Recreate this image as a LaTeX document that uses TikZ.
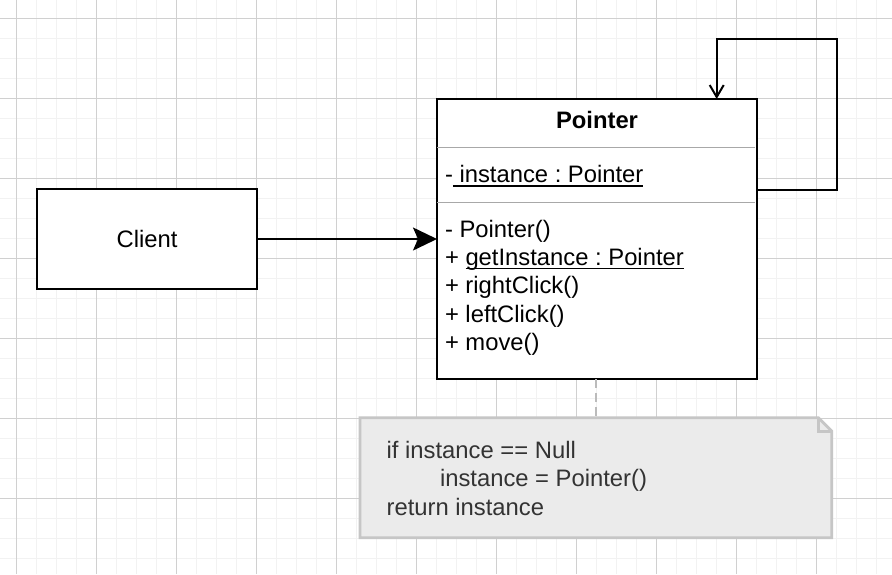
\documentclass[tikz,border=0pt]{standalone}
\usepackage{fontspec}
\setmainfont{Liberation Sans}
\usetikzlibrary{arrows.meta}
\definecolor{gridminor}{HTML}{F2F2F2}
\definecolor{gridmajor}{HTML}{D0D0D0}
\definecolor{sepgray}{HTML}{A8A8A8}
\definecolor{notefill}{HTML}{EBEBEB}
\definecolor{notestroke}{HTML}{C6C6C6}
\definecolor{notetext}{HTML}{333333}
\definecolor{dashgray}{HTML}{BBBBBB}
\newcommand\myul[1]{\setbox0\hbox{#1}\rlap{\rule[-4pt]{\wd0}{1.8pt}}\box0}
\frenchspacing
\begin{document}
\begin{tikzpicture}[x=1pt,y=-1pt,
  font=\fontsize{23.8}{28}\selectfont\frenchspacing,
  box/.style={draw=black,line width=2pt,fill=white,inner sep=0pt,outer sep=0pt},
  txt/.style={inner sep=0pt,outer sep=0pt},
  notetxt/.style={txt,anchor=base west,text=notetext},
  conn/.style={draw=black,line width=2pt},
  dashconn/.style={draw=dashgray,line width=2pt,dash pattern=on 9pt off 5pt},
  notestyle/.style={fill=notefill,draw=notestroke,line width=2.8pt,line join=miter},
  sepline/.style={draw=sepgray,line width=1.5pt}]
\fill[white] (0,0) rectangle (892,574);
\useasboundingbox (0,0) rectangle (892,574);
% grid
\foreach \x in {16.5,36.5,...,880} \draw[gridminor,line width=1.6pt] (\x,0) -- (\x,574);
\foreach \y in {18.3,38.3,...,570} \draw[gridminor,line width=1.6pt] (0,\y) -- (892,\y);
\foreach \x in {16.5,96.5,...,880} \draw[gridmajor,line width=1pt] (\x,0) -- (\x,574);
\foreach \y in {18.3,98.3,...,570} \draw[gridmajor,line width=1pt] (0,\y) -- (892,\y);
% client
\node[box,minimum width=220pt,minimum height=100pt] (client) at (147,239) {Client};
% pointer class
\node[box,minimum width=320pt,minimum height=280pt] (pointer) at (597,239) {};
\draw[sepline] ([yshift=-48.7pt]pointer.north west) -- ([yshift=-48.7pt,xshift=-2pt]pointer.north east);
\draw[sepline] ([yshift=-103.7pt]pointer.north west) -- ([yshift=-103.7pt,xshift=-2pt]pointer.north east);
\node[txt,anchor=base] (title) at (597,128.3) {\textbf{Pointer}};
\node[txt,anchor=base west] (attr) at (445,182.7) {-\myul{\ instance : Pointer}};
\node[txt,anchor=base west] (m1) at (445,237) {- Pointer()};
\node[txt,anchor=base west] (m2) at (445,265.3) {+ \myul{getInstance : Pointer}};
\node[txt,anchor=base west] (m3) at (445,293.6) {+ rightClick()};
\node[txt,anchor=base west] (m4) at (445,322) {+ leftClick()};
\node[txt,anchor=base west] (m5) at (445,350.3) {+ move()};
% note
\node[txt,minimum width=471.7pt,minimum height=120pt] (note) at (595.85,477.7) {};
\filldraw[notestyle] (note.north west) -- ([xshift=-13.4pt]note.north east) -- ([yshift=-13.4pt]note.north east) -- (note.south east) -- (note.south west) -- cycle;
\draw[notestyle,fill=none] ([xshift=-13.4pt]note.north east) |- ([yshift=-13.4pt]note.north east);
\node[notetxt] (n1) at (386.7,458.3) {if instance == Null};
\node[notetxt] (n2) at (440,486.7) {instance = Pointer()};
\node[notetxt] (n3) at (386.7,515) {return instance};
% connectors
\draw[conn,-{Stealth[length=24pt,width=23pt,inset=5pt]}] (client) -- (pointer);
\coordinate (loopcorner) at (836.7,39);
\draw[conn,line join=miter,-{Straight Barb[length=12pt,width=14pt]}] ([yshift=48.7pt]pointer.east) -| (loopcorner) -| ([xshift=119.7pt]pointer.north);
\draw[dashconn] (note.north |- pointer.south) -- (note.north);
\end{tikzpicture}
\end{document}
